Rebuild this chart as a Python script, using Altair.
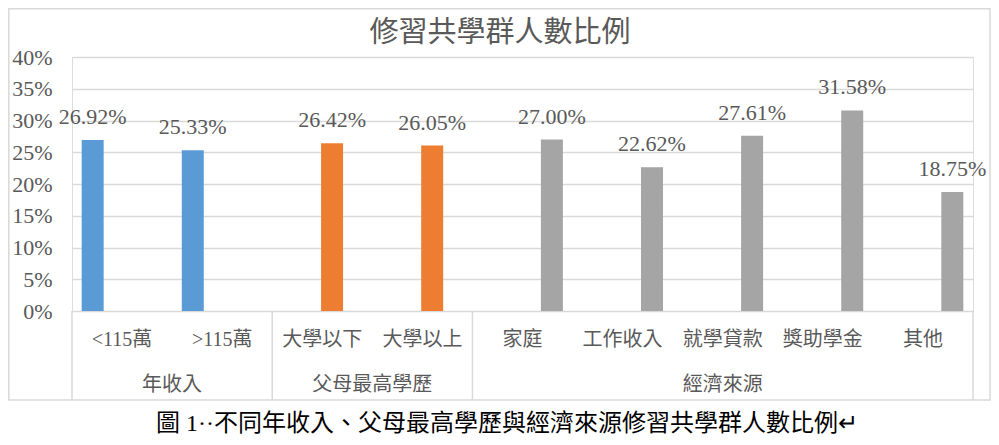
import altair as alt
import pandas as pd

# ---- data ----
categories = ["<115萬", ">115萬", "大學以下", "大學以上", "家庭", "工作收入", "就學貸款", "獎助學金", "其他"]
groups = ["年收入", "年收入", "父母最高學歷", "父母最高學歷", "經濟來源", "經濟來源", "經濟來源", "經濟來源", "經濟來源"]
values = [0.2692, 0.2533, 0.2642, 0.2605, 0.2700, 0.2262, 0.2761, 0.3158, 0.1875]
group_names = ["年收入", "父母最高學歷", "經濟來源"]
group_colors = ["#5b9bd5", "#ed7d31", "#a5a5a5"]
# the source chart has an empty series slot between the first and the second series
series_slots = ["年收入", "(空)", "父母最高學歷", "經濟來源"]
y_ticks = [0, 0.05, 0.10, 0.15, 0.20, 0.25, 0.30, 0.35, 0.40]
title_text = "修習共學群人數比例"
caption_text = "圖 1··不同年收入、父母最高學歷與經濟來源修習共學群人數比例↵"

df = pd.DataFrame({"category": categories, "group": groups, "value": values})

# group boundaries and centres derived from the group list
counts = [groups.count(g) for g in group_names]
bounds = [0]
for c in counts:
    bounds.append(bounds[-1] + c)
bdf = pd.DataFrame({"pos": bounds})
gdf = pd.DataFrame({"group": group_names,
                    "mid": [(bounds[i] + bounds[i + 1]) / 2 for i in range(len(group_names))]})

W, H = 901, 254
GRID = "#d9d9d9"
TXT = "#595959"
LATIN_CJK = "Liberation Serif, Noto Sans CJK TC"

xband = alt.X("category:N", sort=categories,
              scale=alt.Scale(paddingInner=0, paddingOuter=0),
              axis=alt.Axis(title=None, labelAngle=0, ticks=False, domain=False, grid=False,
                            labelFont=LATIN_CJK, labelFontSize=20, labelColor=TXT,
                            labelPadding=28, labelBaseline="middle", labelOverlap=False))
xoff = alt.XOffset("group:N", scale=alt.Scale(domain=series_slots, paddingInner=0, paddingOuter=0.555))
yq = alt.Y("value:Q", scale=alt.Scale(domain=[0, 0.4], nice=False),
           axis=alt.Axis(title=None, values=y_ticks, format=".0%", ticks=False, domain=False,
                         labelFont="Liberation Serif", labelFontSize=22, labelColor=TXT,
                         labelOverlap=False, labelPadding=20, gridColor=GRID, gridWidth=1.5))

bars = alt.Chart(df).mark_bar(width=22).encode(
    x=xband, xOffset=xoff, y=yq,
    color=alt.Color("group:N", scale=alt.Scale(domain=group_names, range=group_colors), legend=None),
)
labels = alt.Chart(df).mark_text(baseline="alphabetic", dy=-16, font="Liberation Serif",
                                 fontSize=22, color=TXT).encode(
    x=xband, xOffset=xoff, y=yq,
    text=alt.Text("value:Q", format=".2%"),
)
main = alt.layer(bars, labels)

auxx = alt.Scale(domain=[0, len(categories)], nice=False, zero=False)
seps = alt.Chart(bdf).mark_rule(color=GRID, strokeWidth=1.5).encode(
    x=alt.X("pos:Q", scale=auxx, axis=None),
    y=alt.value(H), y2=alt.value(H + 89),
)
glabels = alt.Chart(gdf).mark_text(font=LATIN_CJK, fontSize=20, color=TXT, baseline="middle").encode(
    x=alt.X("mid:Q", scale=auxx, axis=None),
    y=alt.value(H + 74),
    text="group:N",
)
frame_df = pd.DataFrame({"caption": [caption_text], "title": [title_text]})
border = alt.Chart(frame_df).mark_rect(fillOpacity=0, stroke=GRID, strokeWidth=1.5).encode(
    x=alt.value(-63.2), x2=alt.value(W + 17), y=alt.value(-48.2), y2=alt.value(H + 89),
)
title = alt.Chart(frame_df).mark_text(font="Noto Sans CJK TC", fontSize=29, color=TXT,
                                      align="center", baseline="alphabetic").encode(
    x=alt.value(428), y=alt.value(-15), text="title:N",
)
caption = alt.Chart(frame_df).mark_text(font=LATIN_CJK, fontSize=24, color="#000000",
                                        align="center", baseline="middle").encode(
    x=alt.value(435), y=alt.value(H + 113), text="caption:N",
)
aux = alt.layer(border, seps, glabels, title, caption)

chart = alt.layer(main, aux).resolve_scale(x="independent").properties(
    width=W, height=H,
    padding={"left": 64, "top": 49, "right": 18, "bottom": 125},
    autosize="none",
).configure_view(stroke=GRID, strokeWidth=1.5).configure(background="white")

chart.save("out.html", embed_options={"renderer": "svg", "actions": False})
